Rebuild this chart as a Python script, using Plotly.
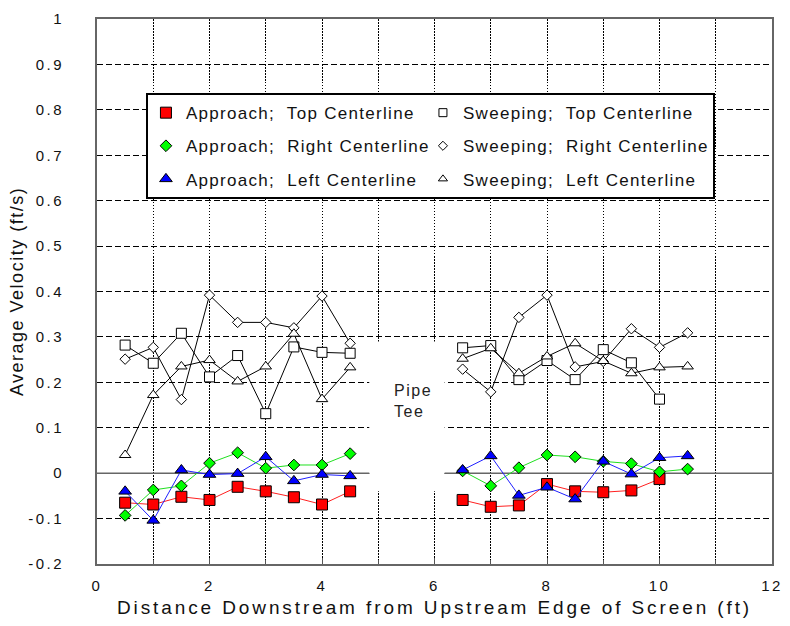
import plotly.graph_objects as go

# ---------------- data ----------------
x_left = [0.5, 1, 1.5, 2, 2.5, 3, 3.5, 4, 4.5]
x_right = [6.5, 7, 7.5, 8, 8.5, 9, 9.5, 10, 10.5]

approach_top_left = [-0.065, -0.069, -0.052, -0.059, -0.030, -0.040, -0.053, -0.069, -0.040]
approach_top_right = [-0.059, -0.074, -0.071, -0.024, -0.040, -0.042, -0.038, -0.013, None]
approach_right_left = [-0.093, -0.037, -0.028, 0.022, 0.045, 0.011, 0.018, 0.018, 0.043]
approach_right_right = [0.005, -0.028, 0.012, 0.040, 0.036, 0.026, 0.021, 0.003, 0.009]
approach_left_left = [-0.040, -0.104, 0.007, -0.003, -0.001, 0.036, -0.017, -0.003, -0.006]
approach_left_right = [0.007, 0.038, -0.049, -0.031, -0.057, 0.026, -0.002, 0.034, 0.038]

sweep_top_left = [0.282, 0.242, 0.308, 0.212, 0.259, 0.131, 0.278, 0.266, 0.264]
sweep_top_right = [0.276, 0.281, 0.206, 0.248, 0.206, 0.272, 0.243, 0.163, None]
sweep_right_left = [0.251, 0.277, 0.162, 0.392, 0.332, 0.332, 0.320, 0.390, 0.286]
sweep_right_right = [0.229, 0.179, 0.343, 0.392, 0.234, 0.246, 0.318, 0.277, 0.309]
sweep_left_left = [0.040, 0.172, 0.235, 0.249, 0.202, 0.235, 0.307, 0.163, 0.233]
sweep_left_right = [0.252, 0.275, 0.220, 0.257, 0.286, 0.247, 0.220, 0.233, 0.235]

series_names = [
    "Approach;\u00a0 Top Centerline",
    "Sweeping;\u00a0 Top Centerline",
    "Approach;\u00a0 Right Centerline",
    "Sweeping;\u00a0 Right Centerline",
    "Approach;\u00a0 Left Centerline",
    "Sweeping;\u00a0 Left Centerline",
]

y_tick_vals = [-0.2, -0.1, 0, 0.1, 0.2, 0.3, 0.4, 0.5, 0.6, 0.7, 0.8, 0.9, 1]
y_tick_text = ["-0.2", "-0.1", "0", "0.1", "0.2", "0.3", "0.4", "0.5", "0.6", "0.7", "0.8", "0.9", "1"]
x_tick_vals = [0, 2, 4, 6, 8, 10, 12]
x_tick_text = ["0", "2", "4", "6", "8", "10", "12"]

gap_x = [4.84, 6.18]
gap_y = [-0.04, 0.29]
tee_label = "Pipe<br>Tee"

FONT = "Liberation Sans, Arial, sans-serif"

x_all = x_left + [None] + x_right


def joined(a, b):
    return a + [None] + b


# (name, y, rank, fill, symbol, size, linecolor, legend marker size, legend entry width)
specs = [
    (series_names[1], joined(sweep_top_left, sweep_top_right), 2, "white", "square", 10, "black", 8, 245),
    (series_names[3], joined(sweep_right_left, sweep_right_right), 4, "white", "diamond", 8, "black", 7, 245),
    (series_names[5], joined(sweep_left_left, sweep_left_right), 6, "white", "triangle-up", 10, "black", 8, 245),
    (series_names[0], joined(approach_top_left, approach_top_right), 1, "#ff0000", "square", 11, "#ff2020", 11, 232),
    (series_names[2], joined(approach_right_left, approach_right_right), 3, "#00ff00", "diamond", 9, "#20e020", 9, 232),
    (series_names[4], joined(approach_left_left, approach_left_right), 5, "#0000ff", "triangle-up", 11, "#2020ff", 11, 232),
]

fig = go.Figure()
for name, ys, rank, fill, sym, size, lc, lsize, lw in specs:
    fig.add_trace(go.Scatter(
        x=x_all, y=ys, name=name, mode="lines+markers",
        connectgaps=False, showlegend=False,
        line=dict(color=lc, width=1),
        marker=dict(symbol=sym, size=size, color=fill, line=dict(color="black", width=1)),
    ))
    # legend entry (marker only, like the original key)
    fig.add_trace(go.Scatter(
        x=[None], y=[None], name=name, mode="markers",
        legendgroup=name, legendrank=rank, showlegend=True, legendwidth=lw,
        marker=dict(symbol=sym, size=lsize, color=fill, line=dict(color="black", width=1)),
    ))

fig.add_annotation(x=5.56, y=0.16, text=tee_label, showarrow=False, align="left",
                   font=dict(family=FONT, size=16, color="#222222"))

fig.update_layout(
    width=790, height=626,
    margin=dict(l=97, r=10, t=16, b=62),
    paper_bgcolor="white", plot_bgcolor="white",
    font=dict(family=FONT, color="#111111"),
    showlegend=True,
    legend=dict(
        x=0.0725, y=0.864, xanchor="left", yanchor="top",
        orientation="h", entrywidth=232, entrywidthmode="pixels",
        tracegroupgap=8,
        bgcolor="white", bordercolor="black", borderwidth=2,
        font=dict(family=FONT, size=17, color="#111111"),
    ),
    shapes=[
        dict(type="rect", xref="x", yref="y", x0=gap_x[0], x1=gap_x[1], y0=gap_y[0], y1=gap_y[1],
             fillcolor="white", line=dict(width=0), layer="between"),
        dict(type="line", xref="x", yref="y", x0=0, x1=gap_x[0], y0=0, y1=0,
             line=dict(color="#666666", width=1.5), layer="between"),
        dict(type="line", xref="x", yref="y", x0=gap_x[1], x1=12, y0=0, y1=0,
             line=dict(color="#666666", width=1.5), layer="between"),
    ],
)

fig.update_xaxes(
    range=[0, 12], tickvals=x_tick_vals, ticktext=x_tick_text,
    showgrid=True, gridcolor="black", gridwidth=1.3, griddash="1.5px,1.5px",
    minor=dict(dtick=1, showgrid=True, gridcolor="black", gridwidth=1.3, griddash="1.5px,1.5px",
               ticks="inside", ticklen=4, tickcolor="#555555"),
    ticks="inside", ticklen=6, tickcolor="#555555",
    showline=True, linecolor="#666666", linewidth=2, mirror=True,
    zeroline=False,
    ticklabelstandoff=7,
    tickfont=dict(family=FONT, size=15, color="#111111"),
    title=dict(text="Distance Downstream from Upstream Edge of Screen (ft)",
               font=dict(family=FONT, size=19, color="#111111"), standoff=8),
)
fig.update_yaxes(
    range=[-0.2, 1], tickvals=y_tick_vals, ticktext=y_tick_text,
    showgrid=True, gridcolor="black", gridwidth=1, griddash="6px,3px",
    showline=True, linecolor="#666666", linewidth=2, mirror=True,
    zeroline=False, ticks="",
    ticklabelstandoff=28,
    tickfont=dict(family=FONT, size=15, color="#111111"),
    title=dict(text="Average Velocity (ft/s)",
               font=dict(family=FONT, size=18, color="#111111"), standoff=10),
)

post = """
var gd = document.getElementById('{plot_id}');
gd.querySelectorAll('.xtick text, .ytick text').forEach(function(e){e.style.letterSpacing='2.5px';});
gd.querySelectorAll('.g-xtitle text').forEach(function(e){e.style.letterSpacing='2.9px';});
gd.querySelectorAll('.g-ytitle text').forEach(function(e){e.style.letterSpacing='1.5px';});
gd.querySelectorAll('.legendtext').forEach(function(e){e.style.letterSpacing='1.3px';});
gd.querySelectorAll('.annotation-text').forEach(function(e){e.style.letterSpacing='1.5px';});
"""

fig.write_html("out.html", post_script=post)
